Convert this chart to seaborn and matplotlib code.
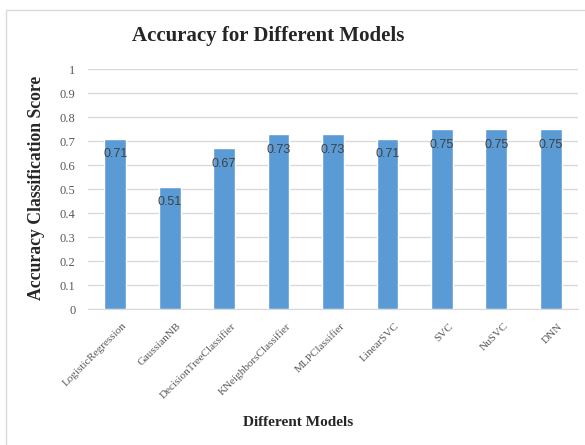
import matplotlib
matplotlib.use('Agg')
import matplotlib.pyplot as plt
import matplotlib.transforms as mtransforms
import seaborn as sns
import pandas as pd

models = ['LogisticRegression', 'GaussianNB', 'DecisionTreeClassifier',
          'KNeighborsClassifier', 'MLPClassifier', 'LinearSVC', 'SVC',
          'NuSVC', 'DNN']
scores = [0.71, 0.51, 0.67, 0.73, 0.73, 0.71, 0.75, 0.75, 0.75]
yticks = [0, 0.1, 0.2, 0.3, 0.4, 0.5, 0.6, 0.7, 0.8, 0.9, 1]
ytick_labels = ['0', '0.1', '0.2', '0.3', '0.4', '0.5', '0.6', '0.7', '0.8', '0.9', '1']

df = pd.DataFrame({'model': models, 'score': scores})

sns.set_style('white')
plt.rcParams['font.family'] = ['Liberation Serif', 'DejaVu Serif']

W, H = 585, 445
fig = plt.figure(figsize=(W / 100, H / 100), dpi=100)
ax = fig.add_axes([88 / W, 1 - 309 / H, 490 / W, 240 / H])

# outer frame like the pasted chart
fig.patches.append(plt.Rectangle((6 / W, -0.02), 1.0, 1 - 10 / H + 0.02,
                                 transform=fig.transFigure, fill=False,
                                 edgecolor='#d9d9d9', linewidth=1.0))

sns.barplot(data=df, x='model', y='score', color='#5b9bd5', width=0.40,
            saturation=1, ax=ax, zorder=3)

ax.set_ylim(0, 1)
ax.set_yticks(yticks)
ax.set_yticklabels(ytick_labels, fontsize=9, color='#595959')
ax.yaxis.grid(True, color='#d9d9d9', linewidth=1)
ax.set_axisbelow(True)
ax.tick_params(axis='both', length=0)
ax.tick_params(axis='y', pad=9)
ax.tick_params(axis='x', pad=6)
for s in ['top', 'right', 'left']:
    ax.spines[s].set_visible(False)
ax.spines['bottom'].set_color('#d9d9d9')
ax.set_xlim(-0.5, len(models) - 0.5)

ax.set_xticks(range(len(models)))
ax.set_xticklabels(models, rotation=45, ha='right', rotation_mode='anchor',
                   fontsize=8, color='#595959')
# nudge the slanted labels a little right/down, like the original
shift = mtransforms.ScaledTranslation(7 / 100, -4 / 100, fig.dpi_scale_trans)
for lbl in ax.get_xticklabels():
    lbl.set_transform(lbl.get_transform() + shift)

for i, v in enumerate(scores):
    ax.text(i, v - 0.066, f'{v:.2f}', ha='center', va='center',
            fontsize=9, color='#404040', zorder=4, family='Liberation Sans')

ax.set_xlabel('')
ax.set_ylabel('')
fig.text(268 / W, 1 - 36 / H, 'Accuracy for Different Models',
         ha='center', va='center', fontsize=15, fontweight='bold')
fig.text(37 / W, 1 - 188 / H, 'Accuracy Classification Score', rotation=90,
         ha='center', va='center', fontsize=12.7, fontweight='bold')
fig.text(298 / W, 1 - 423 / H, 'Different Models',
         ha='center', va='center', fontsize=11, fontweight='bold')

fig.savefig('out.png', dpi=100)
